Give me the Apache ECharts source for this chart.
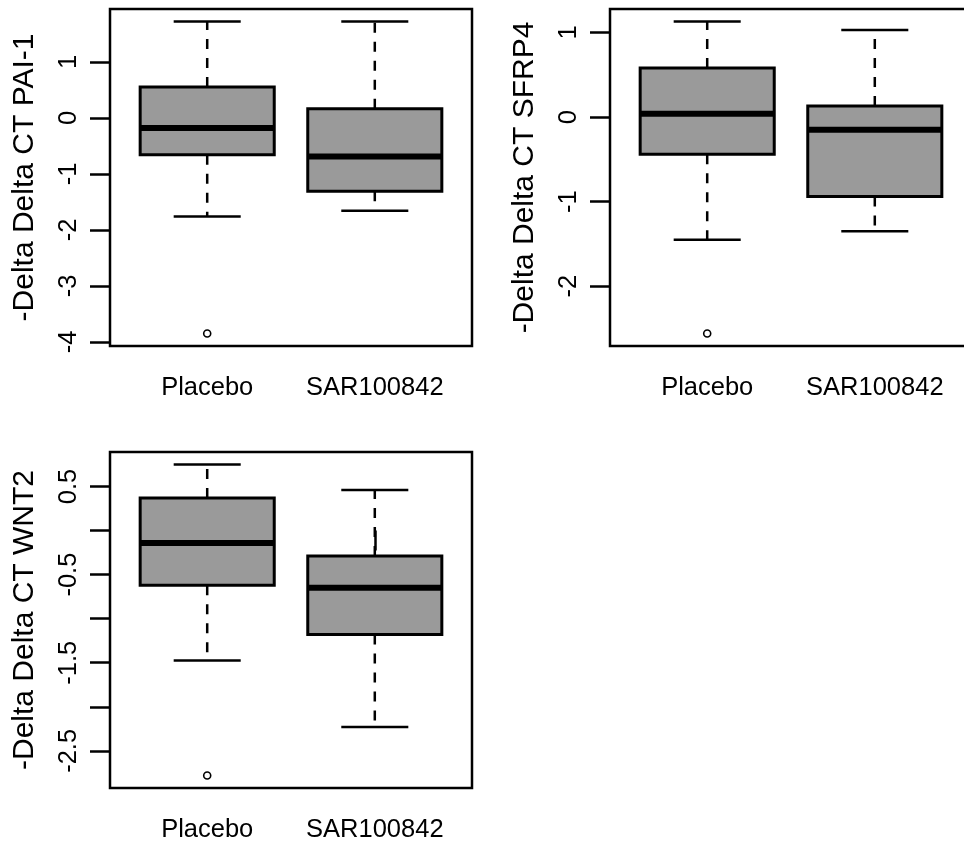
<!DOCTYPE html>
<html>
<head>
<meta charset="utf-8">
<script src="https://cdn.jsdelivr.net/npm/echarts@6/dist/echarts.min.js"></script>
<style>
  html, body { margin: 0; padding: 0; background: #fff; overflow: hidden; }
  #chart { width: 1000px; height: 846px; }
</style>
</head>
<body>
<div id="chart"></div>
<script>
const categories = ['Placebo', 'SAR100842'];

// [lower whisker, Q1, median, Q3, upper whisker] per group
const pai1Stats = [[-1.76, -0.66, -0.18, 0.55, 1.72], [-1.66, -1.31, -0.69, 0.16, 1.72]];
const pai1Outliers = [[1, -3.85]];
const sfrp4Stats = [[-1.45, -0.44, 0.04, 0.58, 1.13], [-1.35, -0.94, -0.15, 0.13, 1.03]];
const sfrp4Outliers = [[1, -2.56]];
const wnt2Stats = [[-1.475, -0.62, -0.14, 0.37, 0.75], [-2.23, -1.18, -0.65, -0.29, 0.46]];
const wnt2Outliers = [[1, -2.78]];

const pai1Ticks = [-4, -3, -2, -1, 0, 1];
const pai1Labels = [-4, -3, -2, -1, 0, 1];
const sfrp4Ticks = [-2, -1, 0, 1];
const sfrp4Labels = [-2, -1, 0, 1];
const wnt2Ticks = [-2.5, -2, -1.5, -1, -0.5, 0, 0.5];
const wnt2Labels = [-2.5, -1.5, -0.5, 0.5];

const titles = ['-Delta Delta CT PAI-1', '-Delta Delta CT SFRP4', '-Delta Delta CT WNT2'];

const FONT = 'Liberation Sans, Arial, Helvetica, sans-serif';

// R-style range: data range extended by 4% each side
function rRange(stats, outliers) {
  let vals = [];
  stats.forEach(s => vals.push(s[0], s[4]));
  outliers.forEach(o => vals.push(o[1]));
  const lo = Math.min(...vals), hi = Math.max(...vals);
  const pad = (hi - lo) * 0.04;
  return [lo - pad, hi + pad];
}

const panels = [
  { stats: pai1Stats, outliers: pai1Outliers, ticks: pai1Ticks, labels: pai1Labels, grid: { left: 110, top: 9, width: 362, height: 337 } },
  { stats: sfrp4Stats, outliers: sfrp4Outliers, ticks: sfrp4Ticks, labels: sfrp4Labels, grid: { left: 610, top: 9, width: 362, height: 337 } },
  { stats: wnt2Stats, outliers: wnt2Outliers, ticks: wnt2Ticks, labels: wnt2Labels, grid: { left: 110, top: 452, width: 362, height: 336 } }
];

function renderBox(params, api) {
  const x = api.value(0);
  const lo = api.coord([x, api.value(1)]);
  const q1 = api.coord([x, api.value(2)]);
  const med = api.coord([x, api.value(3)]);
  const q3 = api.coord([x, api.value(4)]);
  const hi = api.coord([x, api.value(5)]);
  const half = api.size([0.4, 0])[0];
  const cap = half / 2;
  const cx = lo[0];
  const dashStyle = { stroke: '#000', lineWidth: 2.5, lineDash: [10, 9], fill: null };
  const solid = { stroke: '#000', lineWidth: 2.5, fill: null };
  return {
    type: 'group',
    children: [
      { type: 'line', shape: { x1: cx, y1: q3[1], x2: cx, y2: hi[1] }, style: dashStyle },
      { type: 'line', shape: { x1: cx, y1: q1[1], x2: cx, y2: lo[1] }, style: dashStyle },
      { type: 'line', shape: { x1: cx - cap, y1: hi[1], x2: cx + cap, y2: hi[1] }, style: solid },
      { type: 'line', shape: { x1: cx - cap, y1: lo[1], x2: cx + cap, y2: lo[1] }, style: solid },
      { type: 'rect', shape: { x: cx - half, y: q3[1], width: half * 2, height: q1[1] - q3[1] },
        style: { fill: '#9a9a9a', stroke: '#000', lineWidth: 3 } },
      { type: 'line', shape: { x1: cx - half, y1: med[1], x2: cx + half, y2: med[1] },
        style: { stroke: '#000', lineWidth: 6 } }
    ]
  };
}

const grid = [], xAxis = [], yAxis = [], series = [];
panels.forEach((p, i) => {
  grid.push(Object.assign({ show: true, borderColor: '#000', borderWidth: 2.5, backgroundColor: 'transparent' }, p.grid));
  xAxis.push({
    type: 'value', gridIndex: i, min: 0.42, max: 2.58,
    axisLine: { show: false },
    splitLine: { show: false },
    axisTick: { show: true, customValues: [1, 2], length: 20, lineStyle: { color: '#000', width: 2.5 } },
    axisLabel: {
      customValues: [1, 2], margin: 29, fontSize: 25.5, color: '#000', fontFamily: FONT,
      formatter: v => categories[Math.round(v) - 1]
    }
  });
  const r = rRange(p.stats, p.outliers);
  yAxis.push({
    type: 'value', gridIndex: i, min: r[0], max: r[1],
    name: titles[i], nameLocation: 'middle', nameGap: 70, nameRotate: 90,
    nameTextStyle: { fontSize: 30, color: '#000', fontFamily: FONT },
    axisLine: { show: false },
    splitLine: { show: false },
    axisTick: { show: true, customValues: p.ticks, length: 20, lineStyle: { color: '#000', width: 2.5 } },
    axisLabel: {
      customValues: p.labels, rotate: 90, margin: 28, fontSize: 25.5, color: '#000', fontFamily: FONT,
      formatter: v => String(v)
    }
  });
  series.push({
    type: 'custom', xAxisIndex: i, yAxisIndex: i,
    renderItem: renderBox,
    data: p.stats.map((s, k) => [k + 1].concat(s)),
    z: 2
  });
  series.push({
    type: 'scatter', xAxisIndex: i, yAxisIndex: i,
    symbol: 'circle', symbolSize: 7,
    itemStyle: { color: '#fff', borderColor: '#000', borderWidth: 1.6, opacity: 1 },
    data: p.outliers,
    z: 3
  });
});

const myChart = echarts.init(document.getElementById('chart'));
myChart.setOption({
  animation: false,
  backgroundColor: '#fff',
  grid: grid,
  xAxis: xAxis,
  yAxis: yAxis,
  series: series
});
window.onresize = function () {
  myChart.resize();
};
</script>
</body>
</html>
